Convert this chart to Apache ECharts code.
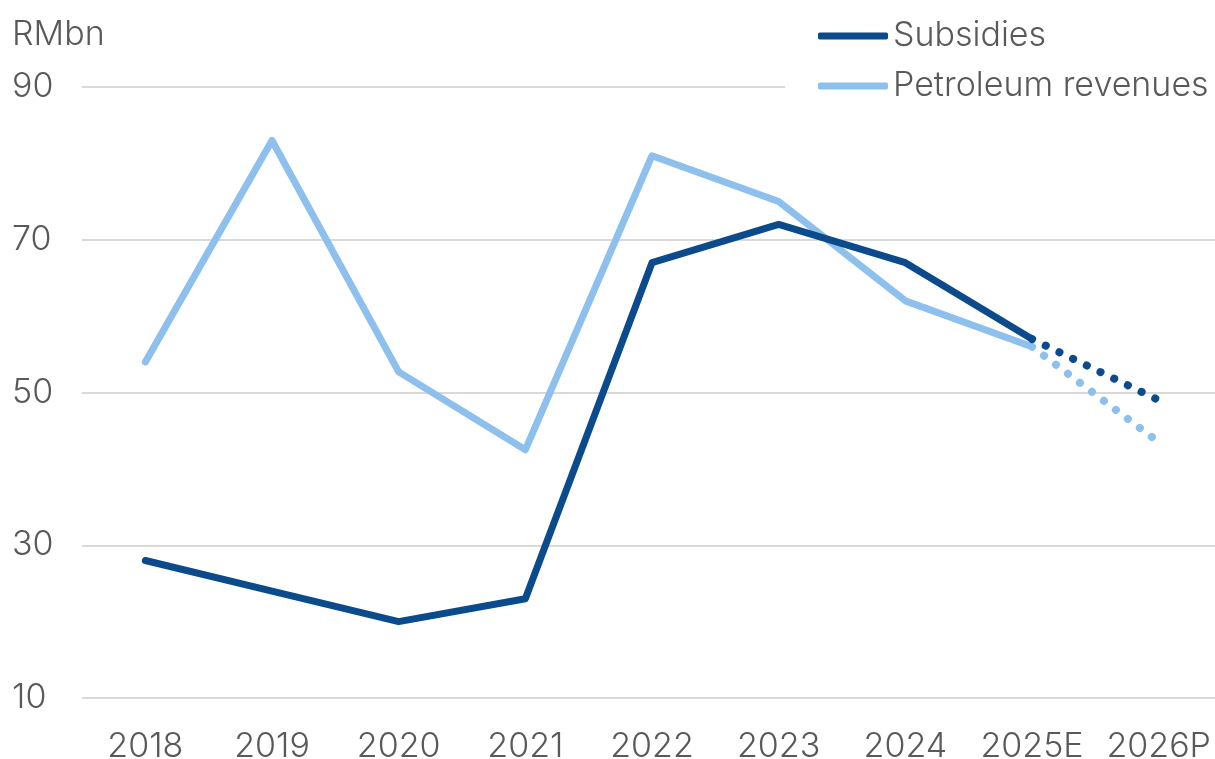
<!DOCTYPE html>
<html>
<head>
<meta charset="utf-8">
<script src="https://cdn.jsdelivr.net/npm/echarts@6/dist/echarts.min.js"></script>
<style>html,body{margin:0;padding:0;background:#fff}#c{width:1215px;height:759px}</style>
</head>
<body>
<div id="c"></div>
<script>
const categories = ['2018','2019','2020','2021','2022','2023','2024','2025E','2026P'];
const subsidies = [28, 24, 20, 23, 67, 72, 67, 57, 49];
const petroleum = [54, 83, 52.7, 42.5, 81, 75, 62, 56, 43.5];
const firstProjected = 8; // 2026P is a projection; dotted from 2025E
const yTicks = [10, 30, 50, 70, 90];
const unitLabel = 'RMbn';

const solidPart = arr => arr.map((v, i) => i < firstProjected ? v : null);
const dottedPart = arr => arr.map((v, i) => i >= firstProjected - 1 ? v : null);

const DARK = '#0B4A8B', LIGHT = '#8DC0EC', FONT = 'Inter, "Liberation Sans", sans-serif', TXT = '#595959';
const FS = 34, FW = 300;

const chart = echarts.init(document.getElementById('c'), null, {renderer: 'canvas'});
const solidStyle = c => ({color: c, width: 7, cap: 'round', join: 'round'});
const dotStyle = (c, gap) => ({color: c, width: 8, cap: 'round', type: [0.1, gap]});
chart.setOption({
  animation: false,
  backgroundColor: '#fff',
  textStyle: {fontFamily: FONT},
  title: {text: unitLabel, left: 12, top: 18, padding: 0,
    textStyle: {fontFamily: FONT, fontSize: FS, fontWeight: FW, color: TXT}},
  legend: {
    data: ['Subsidies', 'Petroleum revenues'],
    orient: 'vertical', left: 785, top: 8,
    padding: [8, 10, 8, 33], backgroundColor: '#fff',
    itemWidth: 70, itemHeight: 7, itemGap: 10, icon: 'roundRect',
    textStyle: {fontFamily: FONT, fontSize: FS, fontWeight: FW, color: TXT, lineHeight: 40},
    z: 10
  },
  grid: {left: 82, width: 1140, top: 87, bottom: 61, outerBoundsMode: 'none', containLabel: false},
  xAxis: {
    type: 'category', data: categories, boundaryGap: true,
    axisLine: {show: false}, axisTick: {show: false},
    axisLabel: {fontFamily: FONT, fontSize: FS, fontWeight: FW, color: TXT, margin: 32, interval: 0, hideOverlap: false}
  },
  yAxis: {
    type: 'value', min: yTicks[0], max: yTicks[yTicks.length-1], interval: 20,
    axisLine: {show: false}, axisTick: {show: false},
    axisLabel: {fontFamily: FONT, fontSize: FS, fontWeight: FW, color: TXT, align: 'left', margin: 70},
    splitLine: {lineStyle: {color: '#D9D9D9', width: 2}}
  },
  series: [
    {name: 'Subsidies', type: 'line', data: solidPart(subsidies), symbol: 'none', lineStyle: solidStyle(DARK), itemStyle: {color: DARK}, z: 3},
    {name: 'Subsidies proj', type: 'line', data: dottedPart(subsidies), symbol: 'none', lineStyle: dotStyle(DARK, 15.1), itemStyle: {color: DARK}, z: 3},
    {name: 'Petroleum revenues', type: 'line', data: solidPart(petroleum), symbol: 'none', lineStyle: solidStyle(LIGHT), itemStyle: {color: LIGHT}, z: 2},
    {name: 'Petroleum proj', type: 'line', data: dottedPart(petroleum), symbol: 'none', lineStyle: dotStyle(LIGHT, 14.9), itemStyle: {color: LIGHT}, z: 2}
  ]
});
</script>
</body>
</html>
